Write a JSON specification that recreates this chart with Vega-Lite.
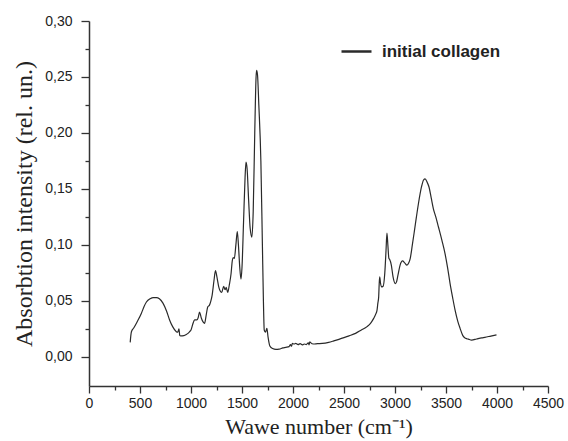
{
  "$schema": "https://vega.github.io/schema/vega-lite/v6.json",
  "width": 459,
  "height": 365,
  "autosize": "none",
  "padding": {"left": 89, "top": 21, "right": 20, "bottom": 55},
  "background": "white",
  "config": {
    "view": {"stroke": null},
    "axis": {"grid": false, "domainColor": "#333", "tickColor": "#333", "domainWidth": 1.5, "tickWidth": 1.3, "labelColor": "#222", "labelFont": "Liberation Sans", "labelFontSize": 14, "titleFont": "Liberation Serif", "titleFontWeight": "normal", "titleColor": "#222"}
  },
  "data": {"values": [
    {"x": 404, "y": 0.013}, {"x": 410, "y": 0.019}, {"x": 416, "y": 0.0225}, {"x": 440, "y": 0.026}, {"x": 470, "y": 0.031},
    {"x": 514, "y": 0.039}, {"x": 540, "y": 0.045}, {"x": 563, "y": 0.049}, {"x": 600, "y": 0.052}, {"x": 630, "y": 0.053},
    {"x": 661, "y": 0.053}, {"x": 690, "y": 0.052}, {"x": 725, "y": 0.048}, {"x": 760, "y": 0.041}, {"x": 790, "y": 0.033},
    {"x": 820, "y": 0.027}, {"x": 856, "y": 0.0225}, {"x": 870, "y": 0.022}, {"x": 882, "y": 0.025}, {"x": 890, "y": 0.019},
    {"x": 898, "y": 0.0187}, {"x": 930, "y": 0.019}, {"x": 954, "y": 0.02}, {"x": 970, "y": 0.021}, {"x": 986, "y": 0.0225},
    {"x": 1000, "y": 0.024}, {"x": 1020, "y": 0.03}, {"x": 1035, "y": 0.033}, {"x": 1057, "y": 0.033}, {"x": 1070, "y": 0.035},
    {"x": 1084, "y": 0.04}, {"x": 1100, "y": 0.035}, {"x": 1120, "y": 0.031}, {"x": 1133, "y": 0.03}, {"x": 1150, "y": 0.038},
    {"x": 1165, "y": 0.0448}, {"x": 1180, "y": 0.046}, {"x": 1195, "y": 0.05}, {"x": 1207, "y": 0.055}, {"x": 1225, "y": 0.068},
    {"x": 1240, "y": 0.077}, {"x": 1255, "y": 0.071}, {"x": 1272, "y": 0.0626}, {"x": 1285, "y": 0.059}, {"x": 1301, "y": 0.0575},
    {"x": 1320, "y": 0.063}, {"x": 1334, "y": 0.06}, {"x": 1345, "y": 0.062}, {"x": 1360, "y": 0.0575}, {"x": 1375, "y": 0.064},
    {"x": 1393, "y": 0.0745}, {"x": 1405, "y": 0.086}, {"x": 1415, "y": 0.0886}, {"x": 1425, "y": 0.088}, {"x": 1440, "y": 0.1},
    {"x": 1454, "y": 0.112}, {"x": 1465, "y": 0.1}, {"x": 1478, "y": 0.08}, {"x": 1490, "y": 0.0694}, {"x": 1500, "y": 0.08},
    {"x": 1515, "y": 0.12}, {"x": 1530, "y": 0.16}, {"x": 1539, "y": 0.174}, {"x": 1550, "y": 0.168}, {"x": 1565, "y": 0.14},
    {"x": 1580, "y": 0.115}, {"x": 1597, "y": 0.107}, {"x": 1610, "y": 0.13}, {"x": 1625, "y": 0.2}, {"x": 1638, "y": 0.25},
    {"x": 1643, "y": 0.256}, {"x": 1652, "y": 0.252}, {"x": 1665, "y": 0.225}, {"x": 1685, "y": 0.175}, {"x": 1700, "y": 0.1},
    {"x": 1710, "y": 0.05}, {"x": 1718, "y": 0.024}, {"x": 1730, "y": 0.022}, {"x": 1744, "y": 0.0255}, {"x": 1755, "y": 0.018},
    {"x": 1773, "y": 0.0098}, {"x": 1800, "y": 0.0075}, {"x": 1832, "y": 0.0068}, {"x": 1864, "y": 0.007}, {"x": 1900, "y": 0.008},
    {"x": 1930, "y": 0.0085}, {"x": 1962, "y": 0.0092}, {"x": 1975, "y": 0.011}, {"x": 1985, "y": 0.0095}, {"x": 1994, "y": 0.012},
    {"x": 2010, "y": 0.0115}, {"x": 2027, "y": 0.012}, {"x": 2050, "y": 0.011}, {"x": 2070, "y": 0.0118}, {"x": 2092, "y": 0.0107},
    {"x": 2110, "y": 0.0115}, {"x": 2130, "y": 0.011}, {"x": 2150, "y": 0.0125}, {"x": 2157, "y": 0.0107}, {"x": 2165, "y": 0.0135},
    {"x": 2173, "y": 0.0127}, {"x": 2200, "y": 0.0115}, {"x": 2240, "y": 0.0118}, {"x": 2287, "y": 0.012}, {"x": 2350, "y": 0.013},
    {"x": 2400, "y": 0.0143}, {"x": 2450, "y": 0.0157}, {"x": 2500, "y": 0.0172}, {"x": 2550, "y": 0.0188}, {"x": 2613, "y": 0.021},
    {"x": 2670, "y": 0.024}, {"x": 2726, "y": 0.027}, {"x": 2760, "y": 0.03}, {"x": 2791, "y": 0.0344}, {"x": 2810, "y": 0.038},
    {"x": 2824, "y": 0.0418}, {"x": 2832, "y": 0.048}, {"x": 2840, "y": 0.0536}, {"x": 2845, "y": 0.065}, {"x": 2850, "y": 0.0714},
    {"x": 2858, "y": 0.066}, {"x": 2866, "y": 0.0626}, {"x": 2883, "y": 0.063}, {"x": 2900, "y": 0.075}, {"x": 2912, "y": 0.095},
    {"x": 2921, "y": 0.1106}, {"x": 2930, "y": 0.1}, {"x": 2940, "y": 0.088}, {"x": 2948, "y": 0.087}, {"x": 2964, "y": 0.082},
    {"x": 2980, "y": 0.072}, {"x": 3003, "y": 0.0655}, {"x": 3015, "y": 0.067}, {"x": 3029, "y": 0.073}, {"x": 3050, "y": 0.082},
    {"x": 3074, "y": 0.0857}, {"x": 3095, "y": 0.084}, {"x": 3117, "y": 0.082}, {"x": 3135, "y": 0.084}, {"x": 3149, "y": 0.0878},
    {"x": 3170, "y": 0.1}, {"x": 3191, "y": 0.113}, {"x": 3210, "y": 0.125}, {"x": 3230, "y": 0.137}, {"x": 3260, "y": 0.152},
    {"x": 3280, "y": 0.158}, {"x": 3295, "y": 0.159}, {"x": 3315, "y": 0.156}, {"x": 3334, "y": 0.1515}, {"x": 3355, "y": 0.142},
    {"x": 3377, "y": 0.132}, {"x": 3400, "y": 0.125}, {"x": 3426, "y": 0.116}, {"x": 3460, "y": 0.104}, {"x": 3491, "y": 0.092},
    {"x": 3515, "y": 0.08}, {"x": 3540, "y": 0.0655}, {"x": 3565, "y": 0.053}, {"x": 3589, "y": 0.0418}, {"x": 3615, "y": 0.032},
    {"x": 3638, "y": 0.0255}, {"x": 3665, "y": 0.019}, {"x": 3692, "y": 0.0166}, {"x": 3720, "y": 0.0158}, {"x": 3751, "y": 0.015},
    {"x": 3800, "y": 0.016}, {"x": 3850, "y": 0.017}, {"x": 3881, "y": 0.0175}, {"x": 3940, "y": 0.0186}, {"x": 3995, "y": 0.0196}
  ]},
  "mark": {"type": "line", "strokeWidth": 1.2, "interpolate": "monotone"},
  "encoding": {
    "x": {"field": "x", "type": "quantitative", "scale": {"domain": [0, 4500], "nice": false, "zero": false},
      "axis": {"values": [0, 250, 500, 750, 1000, 1250, 1500, 1750, 2000, 2250, 2500, 2750, 3000, 3250, 3500, 3750, 4000, 4250, 4500],
        "tickSize": {"condition": {"test": "datum.value % 500 === 0", "value": 7}, "value": 4},
        "labelExpr": "datum.value % 500 === 0 ? format(datum.value, 'd') : ''",
        "labelPadding": 3, "labelFlush": false, "labelOverlap": false,
        "title": "Wawe number (cm⁻¹)", "titleFontSize": 22, "titlePadding": 6}},
    "y": {"field": "y", "type": "quantitative", "scale": {"domain": [-0.026, 0.3], "nice": false, "zero": false},
      "axis": {"values": [0, 0.025, 0.05, 0.075, 0.1, 0.125, 0.15, 0.175, 0.2, 0.225, 0.25, 0.275, 0.3],
        "tickSize": {"condition": {"test": "round(datum.value * 1000) % 50 === 0", "value": 8}, "value": 4},
        "labelExpr": "round(datum.value * 1000) % 50 === 0 ? replace(format(datum.value, '.2f'), '.', ',') : ''",
        "labelPadding": 9, "labelFlush": false, "labelOverlap": false,
        "title": "Absorbtion intensity (rel. un.)", "titleFontSize": 24, "titlePadding": 8}},
    "color": {"datum": "initial collagen", "type": "nominal", "scale": {"range": ["#2a2a2a"]},
      "legend": {"title": null, "orient": "none", "legendX": 251, "legendY": 14, "padding": 0, "symbolType": "stroke", "symbolSize": 900, "symbolStrokeWidth": 2.5, "symbolStrokeColor": "#111",
        "labelFont": "Liberation Sans", "labelFontWeight": "bold", "labelFontSize": 17, "labelColor": "#222", "labelOffset": 9}}
  }
}
